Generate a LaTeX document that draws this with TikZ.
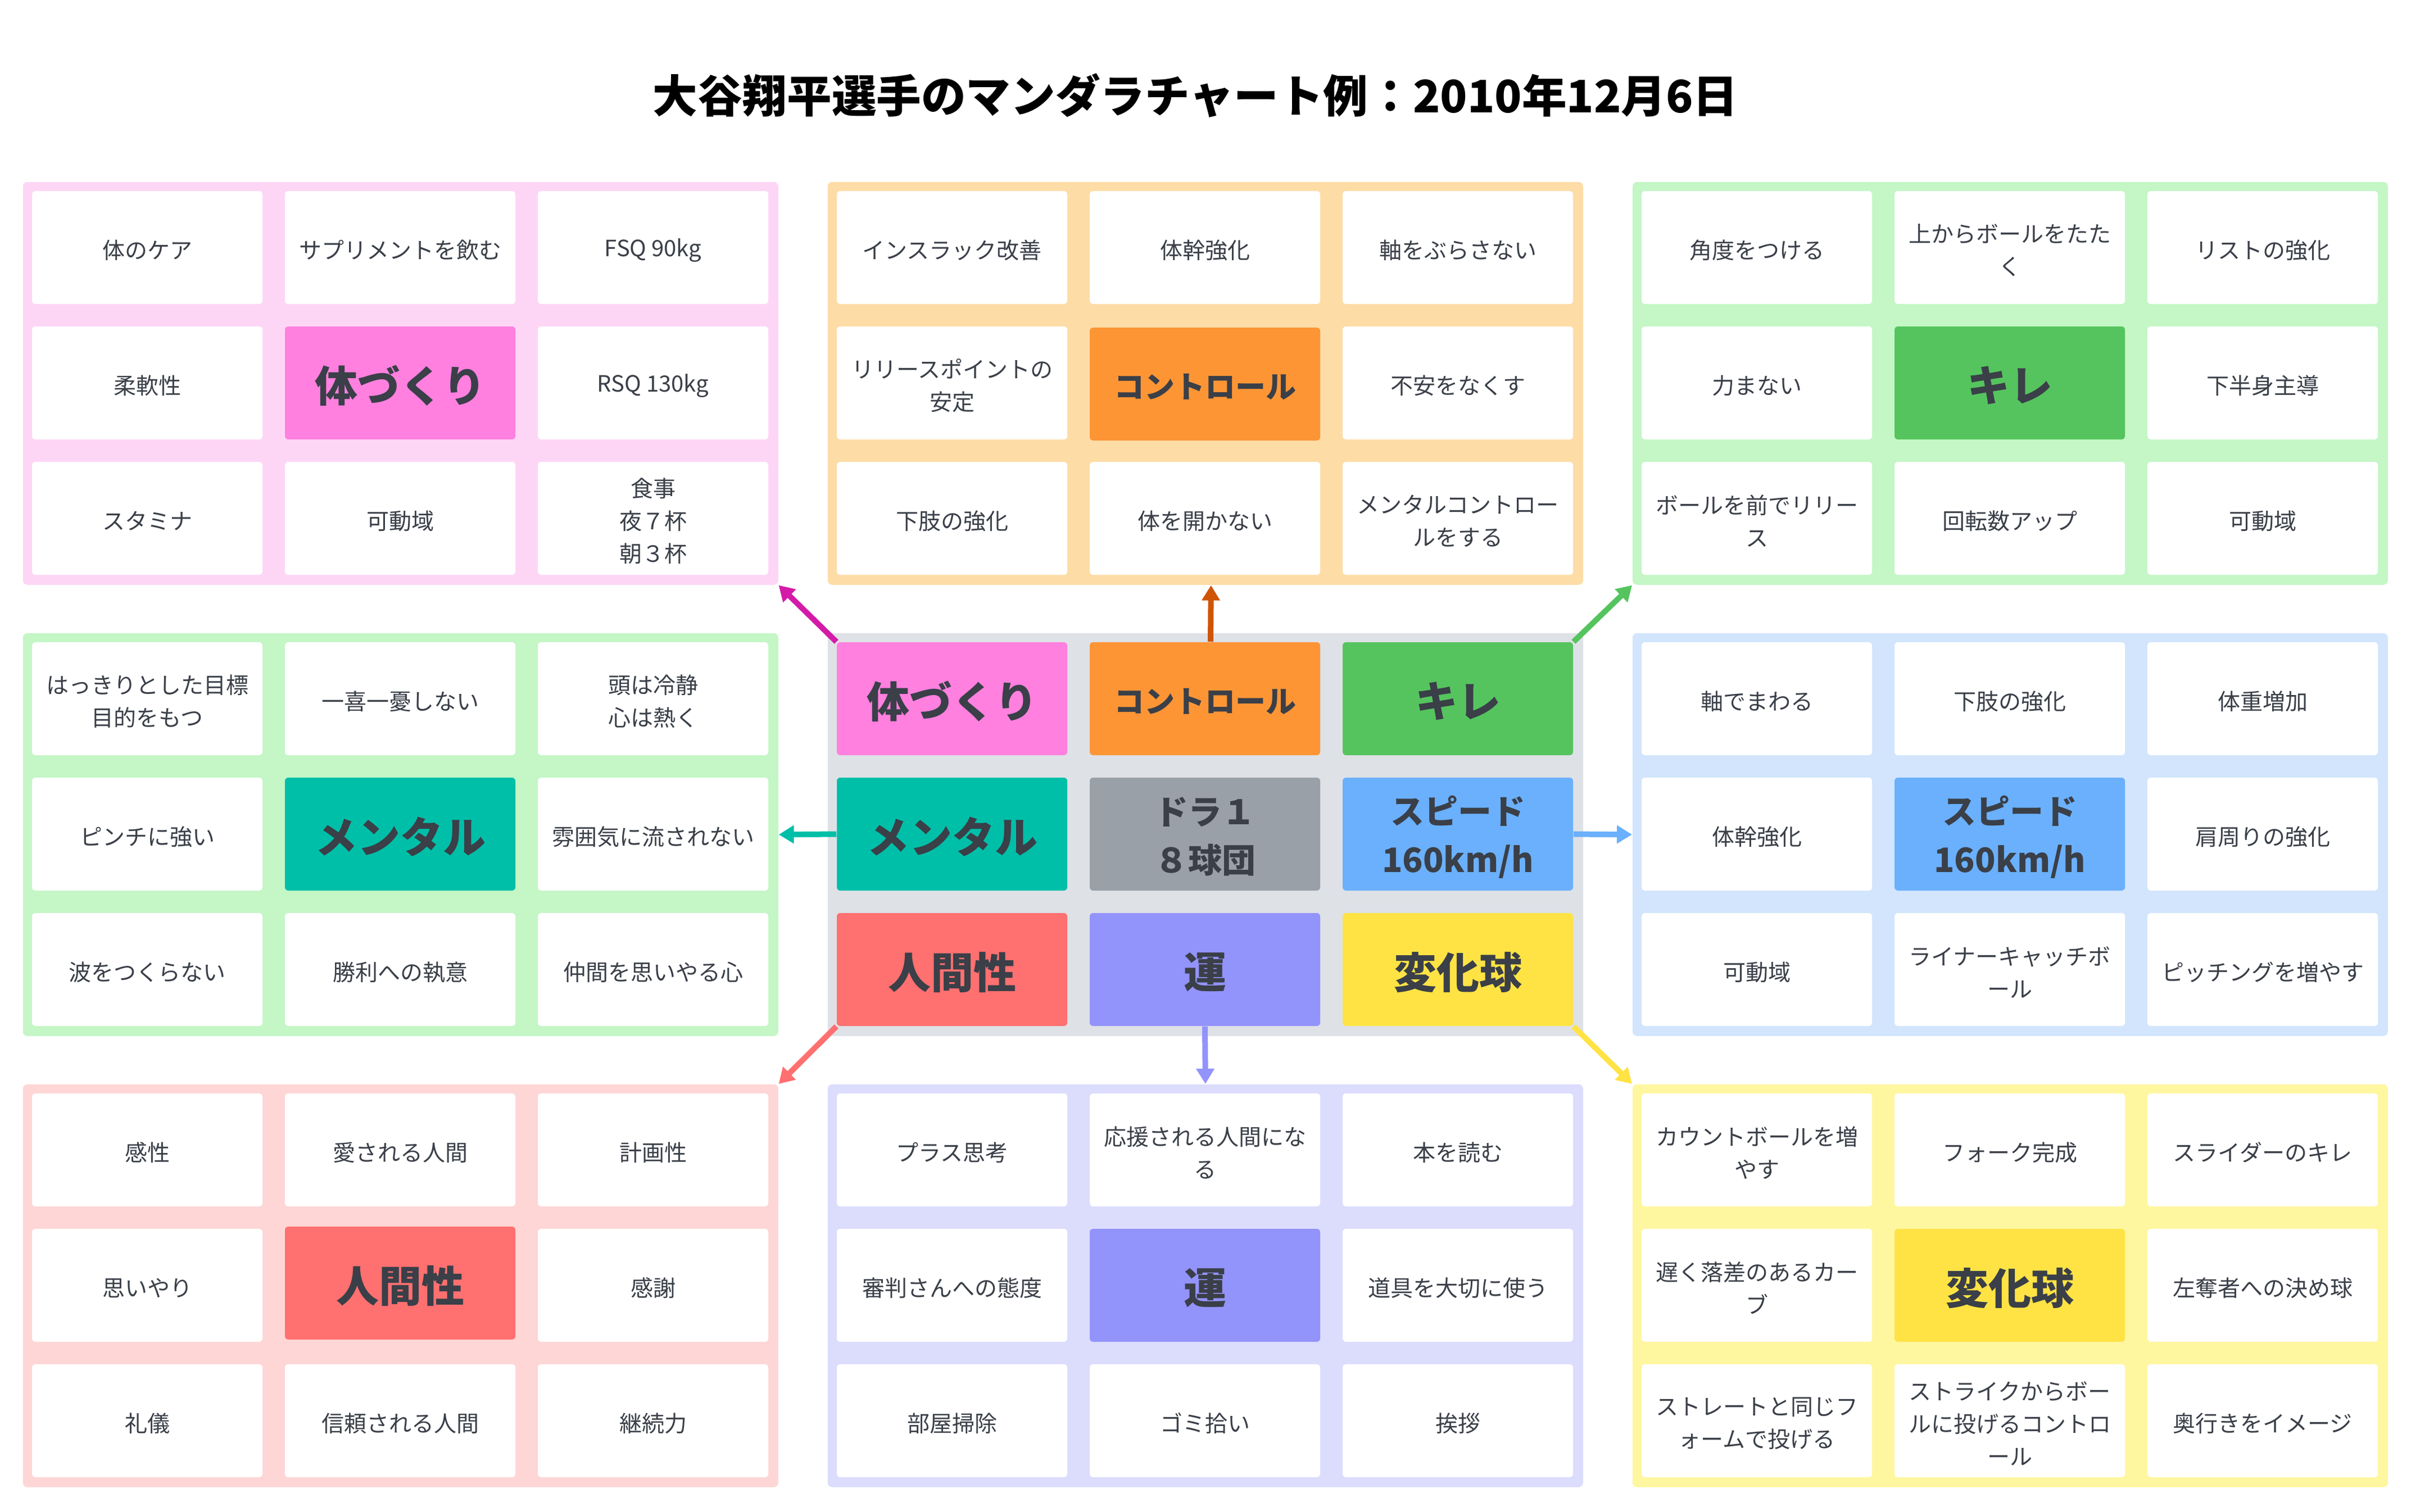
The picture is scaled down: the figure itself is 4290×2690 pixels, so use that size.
\documentclass[tikz,border=0pt]{standalone}
\usepackage{fontspec}
\setmainfont{Noto Sans CJK JP}
\usetikzlibrary{arrows.meta}
\definecolor{txt}{HTML}{3A3F48}
\definecolor{pinkbg}{HTML}{FDD6F6}
\definecolor{pinkc}{HTML}{FF80DF}
\definecolor{pinka}{HTML}{D41BA8}
\definecolor{orangebg}{HTML}{FEDCA6}
\definecolor{orangec}{HTML}{FD9535}
\definecolor{orangea}{HTML}{CF5506}
\definecolor{greenbg}{HTML}{C4F6C6}
\definecolor{greenc}{HTML}{55C45E}
\definecolor{tealc}{HTML}{00BFA8}
\definecolor{bluebg}{HTML}{D2E5FC}
\definecolor{bluec}{HTML}{6AB0FC}
\definecolor{redbg}{HTML}{FED6D6}
\definecolor{redc}{HTML}{FF7070}
\definecolor{violetbg}{HTML}{DCDCFD}
\definecolor{violetc}{HTML}{9393FC}
\definecolor{yellowbg}{HTML}{FFF6A0}
\definecolor{yellowc}{HTML}{FFE344}
\definecolor{centerbg}{HTML}{DEE1E6}
\definecolor{greyc}{HTML}{9AA0A8}
\tikzset{
  cellbg/.style={fill=white, rounded corners=1.5pt, minimum width=102.5pt, minimum height=50.25pt, inner sep=0pt},
  sm/.style={align=center, text=txt, inner sep=0pt, font=\fontsize{10}{14.5}\selectfont},
  kb/.style={sm, font=\bfseries\fontsize{19}{24}\selectfont},
  ks/.style={sm, font=\bfseries\fontsize{13.5}{18}\selectfont},
  kt/.style={sm, font=\bfseries\fontsize{15}{21.5}\selectfont},
  grp/.style={rounded corners=2pt, minimum width=336pt, minimum height=179.25pt, inner sep=0pt, anchor=north west},
  conn/.style={line width=2.5pt, -{Triangle[length=6.75pt,width=7.75pt]}},
}
% cell: name, position, box style, text style, text
\newcommand\mc[5]{\node[cellbg,#3] (#1) at (#2) {};\node[#4] (#1t) at ([yshift=-1.2pt]#1.center) {#5};}
\begin{document}
\begin{tikzpicture}[x=0.25pt,y=-0.25pt]
\useasboundingbox (0,0) rectangle (4290,2690);
\node[font=\bfseries\fontsize{19.9}{24}\selectfont, text=black] (title) at (2127,170) {大谷翔平選手のマンダラチャート例：2010年12月6日};

% ---- top-left: 体づくり
\begin{scope}[shift={(40,323)}]
\node[grp, fill=pinkbg] (ga) at (0,0) {};
\mc{a1}{222,117.5}{}{sm}{体のケア}
\mc{a2}{672,117.5}{}{sm}{サプリメントを飲む}
\mc{a3}{1122,117.5}{}{sm}{FSQ 90kg}
\mc{a4}{222,358.5}{}{sm}{柔軟性}
\mc{a5}{672,358.5}{fill=pinkc}{kb}{体づくり}
\mc{a6}{1122,358.5}{}{sm}{RSQ 130kg}
\mc{a7}{222,599.5}{}{sm}{スタミナ}
\mc{a8}{672,599.5}{}{sm}{可動域}
\mc{a9}{1122,599.5}{}{sm}{食事\\夜７杯\\朝３杯}
\end{scope}

% ---- top-middle: コントロール
\begin{scope}[shift={(1472,323)}]
\node[grp, fill=orangebg] (gb) at (0,0) {};
\mc{b1}{222,117.5}{}{sm}{インスラック改善}
\mc{b2}{672,117.5}{}{sm}{体幹強化}
\mc{b3}{1122,117.5}{}{sm}{軸をぶらさない}
\mc{b4}{222,358.5}{}{sm}{リリースポイントの\\安定}
\mc{b5}{672,360.5}{fill=orangec}{ks}{コントロール}
\mc{b6}{1122,358.5}{}{sm}{不安をなくす}
\mc{b7}{222,599.5}{}{sm}{下肢の強化}
\mc{b8}{672,599.5}{}{sm}{体を開かない}
\mc{b9}{1122,599.5}{}{sm}{メンタルコントロー\\ルをする}
\end{scope}

% ---- top-right: キレ
\begin{scope}[shift={(2904,323)}]
\node[grp, fill=greenbg] (gc) at (0,0) {};
\mc{c1}{222,117.5}{}{sm}{角度をつける}
\mc{c2}{672,117.5}{}{sm}{上からボールをたた\\く}
\mc{c3}{1122,117.5}{}{sm}{リストの強化}
\mc{c4}{222,358.5}{}{sm}{力まない}
\mc{c5}{672,358.5}{fill=greenc}{kb}{キレ}
\mc{c6}{1122,358.5}{}{sm}{下半身主導}
\mc{c7}{222,599.5}{}{sm}{ボールを前でリリー\\ス}
\mc{c8}{672,599.5}{}{sm}{回転数アップ}
\mc{c9}{1122,599.5}{}{sm}{可動域}
\end{scope}

% ---- middle-left: メンタル
\begin{scope}[shift={(40,1126)}]
\node[grp, fill=greenbg] (gd) at (0,0) {};
\mc{d1}{222,117.5}{}{sm}{はっきりとした目標\\目的をもつ}
\mc{d2}{672,117.5}{}{sm}{一喜一憂しない}
\mc{d3}{1122,117.5}{}{sm}{頭は冷静\\心は熱く}
\mc{d4}{222,358.5}{}{sm}{ピンチに強い}
\mc{d5}{672,358.5}{fill=tealc}{kb}{メンタル}
\mc{d6}{1122,358.5}{}{sm}{雰囲気に流されない}
\mc{d7}{222,599.5}{}{sm}{波をつくらない}
\mc{d8}{672,599.5}{}{sm}{勝利への執意}
\mc{d9}{1122,599.5}{}{sm}{仲間を思いやる心}
\end{scope}

% ---- center
\begin{scope}[shift={(1472,1126)}]
\node[grp, fill=centerbg] (ge) at (0,0) {};
\mc{e1}{222,117.5}{fill=pinkc}{kb}{体づくり}
\mc{e2}{672,117.5}{fill=orangec}{ks}{コントロール}
\mc{e3}{1122,117.5}{fill=greenc}{kb}{キレ}
\mc{e4}{222,358.5}{fill=tealc}{kb}{メンタル}
\mc{e5}{672,358.5}{fill=greyc}{kt}{ドラ１\\８球団}
\mc{e6}{1122,358.5}{fill=bluec}{kt}{スピード\\160km/h}
\mc{e7}{222,599.5}{fill=redc}{kb}{人間性}
\mc{e8}{672,599.5}{fill=violetc}{kb}{運}
\mc{e9}{1122,599.5}{fill=yellowc}{kb}{変化球}
\end{scope}

% ---- middle-right: スピード
\begin{scope}[shift={(2904,1126)}]
\node[grp, fill=bluebg] (gf) at (0,0) {};
\mc{f1}{222,117.5}{}{sm}{軸でまわる}
\mc{f2}{672,117.5}{}{sm}{下肢の強化}
\mc{f3}{1122,117.5}{}{sm}{体重増加}
\mc{f4}{222,358.5}{}{sm}{体幹強化}
\mc{f5}{672,358.5}{fill=bluec}{kt}{スピード\\160km/h}
\mc{f6}{1122,358.5}{}{sm}{肩周りの強化}
\mc{f7}{222,599.5}{}{sm}{可動域}
\mc{f8}{672,599.5}{}{sm}{ライナーキャッチボ\\ール}
\mc{f9}{1122,599.5}{}{sm}{ピッチングを増やす}
\end{scope}

% ---- bottom-left: 人間性
\begin{scope}[shift={(40,1929)}]
\node[grp, fill=redbg] (gg) at (0,0) {};
\mc{g1}{222,117.5}{}{sm}{感性}
\mc{g2}{672,117.5}{}{sm}{愛される人間}
\mc{g3}{1122,117.5}{}{sm}{計画性}
\mc{g4}{222,358.5}{}{sm}{思いやり}
\mc{g5}{672,354.5}{fill=redc}{kb}{人間性}
\mc{g6}{1122,358.5}{}{sm}{感謝}
\mc{g7}{222,599.5}{}{sm}{礼儀}
\mc{g8}{672,599.5}{}{sm}{信頼される人間}
\mc{g9}{1122,599.5}{}{sm}{継続力}
\end{scope}

% ---- bottom-middle: 運
\begin{scope}[shift={(1472,1929)}]
\node[grp, fill=violetbg] (gh) at (0,0) {};
\mc{h1}{222,117.5}{}{sm}{プラス思考}
\mc{h2}{672,117.5}{}{sm}{応援される人間にな\\る}
\mc{h3}{1122,117.5}{}{sm}{本を読む}
\mc{h4}{222,358.5}{}{sm}{審判さんへの態度}
\mc{h5}{672,358.5}{fill=violetc}{kb}{運}
\mc{h6}{1122,358.5}{}{sm}{道具を大切に使う}
\mc{h7}{222,599.5}{}{sm}{部屋掃除}
\mc{h8}{672,599.5}{}{sm}{ゴミ拾い}
\mc{h9}{1122,599.5}{}{sm}{挨拶}
\end{scope}

% ---- bottom-right: 変化球
\begin{scope}[shift={(2904,1929)}]
\node[grp, fill=yellowbg] (gi) at (0,0) {};
\mc{i1}{222,117.5}{}{sm}{カウントボールを増\\やす}
\mc{i2}{672,117.5}{}{sm}{フォーク完成}
\mc{i3}{1122,117.5}{}{sm}{スライダーのキレ}
\mc{i4}{222,358.5}{}{sm}{遅く落差のあるカー\\ブ}
\mc{i5}{672,358.5}{fill=yellowc}{kb}{変化球}
\mc{i6}{1122,358.5}{}{sm}{左奪者への決め球}
\mc{i7}{222,599.5}{}{sm}{ストレートと同じフ\\ォームで投げる}
\mc{i8}{672,599.5}{}{sm}{ストライクからボー\\ルに投げるコントロ\\ール}
\mc{i9}{1122,599.5}{}{sm}{奥行きをイメージ}
\end{scope}

% ---- connectors
\draw[conn, pinka] (e1.north west) -- (ga.south east);
\draw[conn, orangea] ([xshift=2.5pt]e2.north) -- ([xshift=2.5pt]gb.south);
\draw[conn, greenc] (e3.north east) -- (gc.south west);
\draw[conn, tealc] (e4.west) -- (gd.east);
\draw[conn, bluec] (e6.east) -- (gf.west);
\draw[conn, redc] (e7.south west) -- (gg.north east);
\draw[conn, violetc] (e8.south) -- (gh.north);
\draw[conn, yellowc] (e9.south east) -- (gi.north west);
\end{tikzpicture}
\end{document}
